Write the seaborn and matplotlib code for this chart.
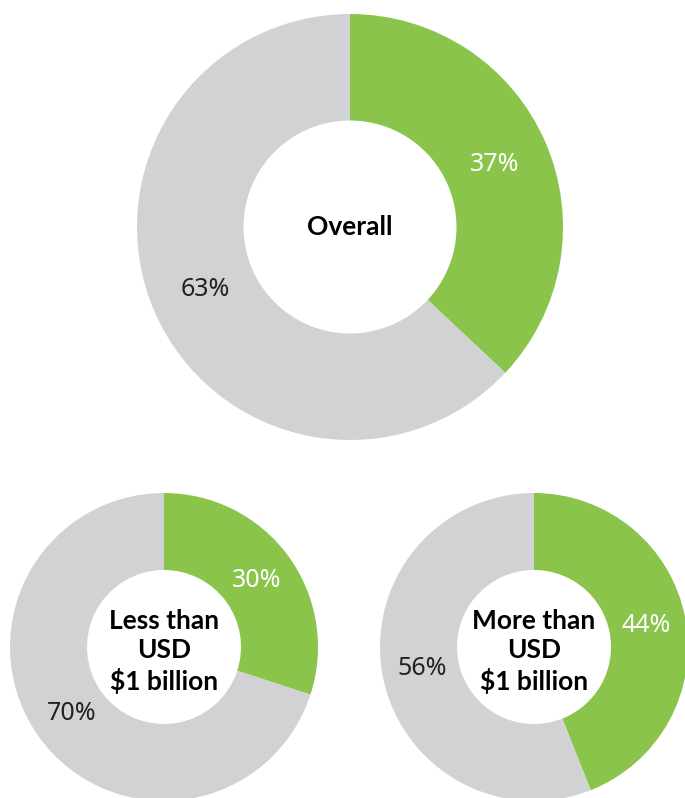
import matplotlib.pyplot as plt
import seaborn as sns

# share of respondents: green = yes, gray = rest
titles = ['Overall', 'Less than\nUSD\n$1 billion', 'More than\nUSD\n$1 billion']
green_share = [37, 30, 44]
gray_share = [63, 70, 56]

sns.set_theme(style="white")
plt.rcParams['font.family'] = ['Noto Sans', 'DejaVu Sans']

green = '#8AC44B'
gray = '#D1D2D4'

W, H = 685, 798
fig = plt.figure(figsize=(W / 100, H / 100), dpi=100)

# donut centre (px from top-left) and outer radius
boxes = [(350, 227, 213), (164, 647, 154), (534, 647, 154)]

for (cx, cy, r), title, g, o in zip(boxes, titles, green_share, gray_share):
    ax = fig.add_axes([(cx - r) / W, (H - cy - r) / H, 2 * r / W, 2 * r / H])
    wedges, texts, autotexts = ax.pie(
        [g, o], colors=[green, gray], startangle=90, counterclock=False,
        wedgeprops=dict(width=0.5, edgecolor='none'),
        autopct='%d%%', pctdistance=0.74, radius=1,
    )
    autotexts[0].set_color('white')
    autotexts[1].set_color('#222222')
    for t in autotexts:
        t.set_fontsize(18)
    y0 = 0 if '\n' not in title else -0.03
    ax.text(0, y0, title, ha='center', va='center', fontsize=19,
            fontweight='bold', color='black', linespacing=1.25,
            family=['Lato', 'DejaVu Sans'])
    ax.set_xlim(-1, 1)
    ax.set_ylim(-1, 1)
    ax.set_aspect('equal')
    ax.axis('off')

plt.savefig('out.png', dpi=100)
